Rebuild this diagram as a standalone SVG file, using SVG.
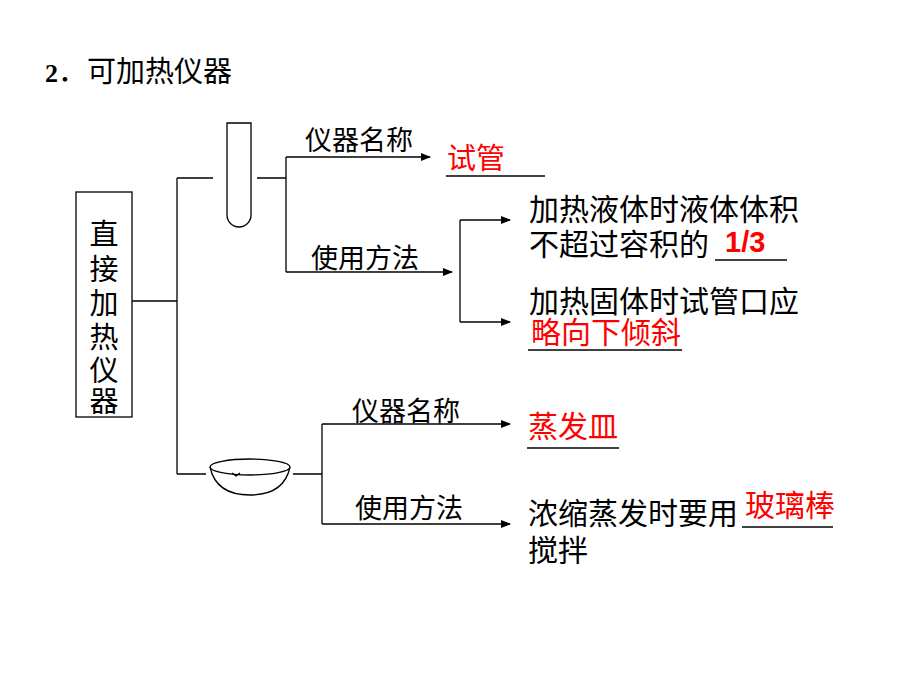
<svg xmlns="http://www.w3.org/2000/svg" width="920" height="690" viewBox="0 0 920 690">
<style>
.t{font-family:"Liberation Sans","Noto Sans CJK SC",sans-serif;fill:#000}
.r{font-family:"Liberation Sans","Noto Sans CJK SC",sans-serif;fill:#ff0000}
.ln{stroke:#000;stroke-width:1.3;fill:none}
.ul{stroke:#000;stroke-width:1.5}
</style>
<defs><marker id="a" markerWidth="10" markerHeight="8" refX="9" refY="4" orient="auto" markerUnits="userSpaceOnUse"><path d="M0,0L10,4L0,8z" fill="#000"/></marker></defs>
<rect width="920" height="690" fill="#fff"/>
<text x="45" y="82" class="t" font-size="29"><tspan font-family="Liberation Serif" font-weight="bold" font-size="26">2</tspan>．可加热仪器</text>
<g id="box"><rect x="76" y="192" width="56" height="225" fill="none" stroke="#000" stroke-width="1.3"/>
<text class="t" font-size="29" x="104" text-anchor="middle"><tspan x="104" y="245">直</tspan><tspan x="104" y="280">接</tspan><tspan x="104" y="314">加</tspan><tspan x="104" y="348">热</tspan><tspan x="104" y="381">仪</tspan><tspan x="104" y="412">器</tspan></text></g>
<g id="tube"><path d="M227,123V215A12,12 0 0 0 251,215V123Z" class="ln"/></g>
<g id="dish"><ellipse cx="250" cy="467" rx="40" ry="8" class="ln"/><path d="M210,467Q216,495 250,495Q284,495 290,467" class="ln"/><path d="M232,473L236,476L240,473" class="ln"/></g>
<g id="connectors">
<path d="M132,301H177M177,178V474M177,178H213M177,474H206" class="ln"/>
<path d="M257,178H286M286,157V272" class="ln"/>
<path d="M286,157H430" class="ln" marker-end="url(#a)"/>
<path d="M286,272H452" class="ln" marker-end="url(#a)"/>
<path d="M460,220V322" class="ln"/>
<path d="M460,220H510" class="ln" marker-end="url(#a)"/>
<path d="M460,322H510" class="ln" marker-end="url(#a)"/>
<path d="M293,474H322M322,424V524" class="ln"/>
<path d="M322,424H510" class="ln" marker-end="url(#a)"/>
<path d="M322,524H510" class="ln" marker-end="url(#a)"/>
</g>
<g id="labels">
<text x="305" y="150" class="t" font-size="27">仪器名称</text>
<text x="311" y="268" class="t" font-size="27">使用方法</text>
<text x="352" y="421" class="t" font-size="27">仪器名称</text>
<text x="355" y="518" class="t" font-size="27">使用方法</text>
</g>
<g id="n1"><text x="447" y="169" class="r" font-size="29">试管</text><line x1="446" y1="176" x2="545" y2="176" class="ul"/></g>
<g id="n2"><text x="529" y="220" class="t" font-size="30">加热液体时液体体积</text><text x="529" y="255" class="t" font-size="30">不超过容积的</text><text x="725" y="252" class="r" font-size="29" font-weight="bold">1/3</text><line x1="715" y1="260" x2="787" y2="260" class="ul"/></g>
<g id="n3"><text x="529" y="312" class="t" font-size="30">加热固体时试管口应</text><text x="531" y="343" class="r" font-size="30">略向下倾斜</text><line x1="528" y1="350" x2="682" y2="350" class="ul"/></g>
<g id="n4"><text x="528" y="437" class="r" font-size="30">蒸发皿</text><line x1="527" y1="448" x2="619" y2="448" class="ul"/></g>
<g id="n5"><text x="528" y="524" class="t" font-size="30">浓缩蒸发时要用</text><text x="745" y="516" class="r" font-size="30">玻璃棒</text><line x1="742" y1="527" x2="833" y2="527" class="ul"/><text x="528" y="561" class="t" font-size="30">搅拌</text></g>
</svg>
